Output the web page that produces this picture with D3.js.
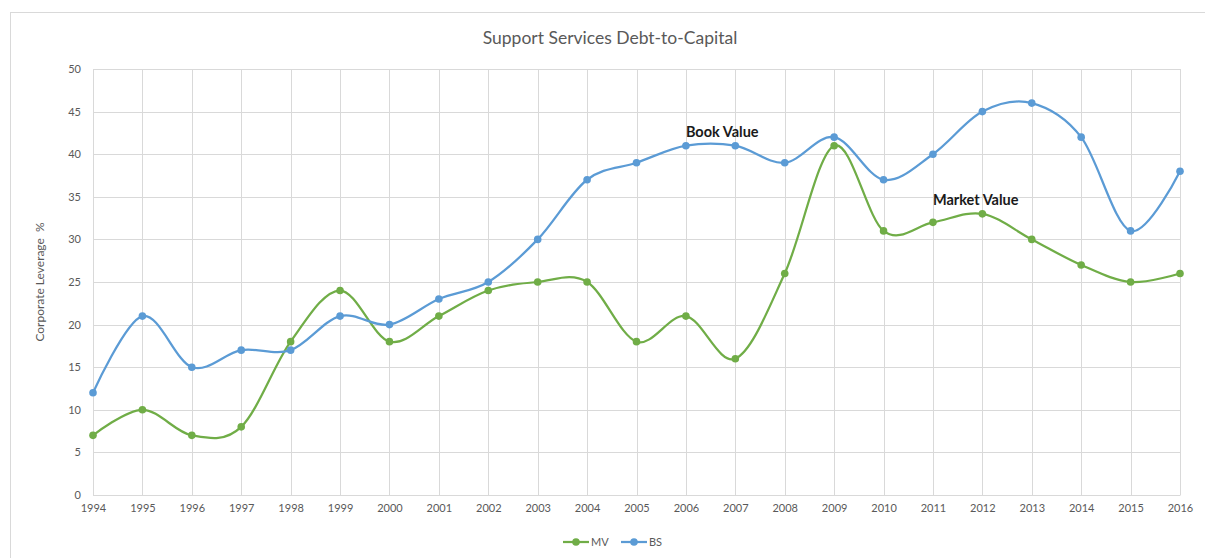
<!DOCTYPE html>
<html>
<head>
<meta charset="utf-8">
<script src="https://cdn.jsdelivr.net/npm/d3@7"></script>
<style>
  body { margin: 0; background: #fff; }
  #chart { width: 1205px; height: 558px; }
  text { font-family: Lato, "Open Sans", sans-serif; }
</style>
</head>
<body>
<div id="chart"></div>
<script>
const years = [1994, 1995, 1996, 1997, 1998, 1999, 2000, 2001, 2002, 2003, 2004, 2005,
  2006, 2007, 2008, 2009, 2010, 2011, 2012, 2013, 2014, 2015, 2016];
const mv = [7, 10, 7, 8, 18, 24, 18, 21, 24, 25, 25, 18, 21, 16, 26, 41, 31, 32, 33, 30, 27, 25, 26];
const bs = [12, 21, 15, 17, 17, 21, 20, 23, 25, 30, 37, 39, 41, 41, 39, 42, 37, 40, 45, 46, 42, 31, 38];
const yTicks = [0, 5, 10, 15, 20, 25, 30, 35, 40, 45, 50];

function drawChart() {
  const container = d3.select("#chart");
  container.selectAll("*").remove();

  const width = 1205;
  const height = 558;
  const margin = { top: 69, right: 25, bottom: 63, left: 93 };

  const svg = container.append("svg")
    .attr("width", width)
    .attr("height", height);

  // outer chart frame
  svg.append("rect")
    .attr("x", 10.5).attr("y", 12.5)
    .attr("width", 1220).attr("height", 600)
    .attr("fill", "none")
    .attr("stroke", "#d9d9d9");

  const x = d3.scaleLinear()
    .domain(d3.extent(years))
    .range([margin.left, width - margin.right]);

  const y = d3.scaleLinear()
    .domain([0, 50])
    .range([height - margin.bottom, margin.top]);

  // grid
  svg.append("g")
    .selectAll("line")
    .data(yTicks)
    .join("line")
    .attr("x1", margin.left).attr("x2", width - margin.right)
    .attr("y1", d => Math.round(y(d)) + 0.5).attr("y2", d => Math.round(y(d)) + 0.5)
    .attr("stroke", "#d9d9d9");

  svg.append("g")
    .selectAll("line")
    .data(years)
    .join("line")
    .attr("x1", d => Math.round(x(d)) + 0.5).attr("x2", d => Math.round(x(d)) + 0.5)
    .attr("y1", y(0)).attr("y2", y(50))
    .attr("stroke", "#d9d9d9");

  // axes
  const xAxis = svg.append("g")
    .attr("transform", `translate(0,${y(0)})`)
    .call(d3.axisBottom(x).tickValues(years).tickFormat(d3.format("d")).tickSize(0).tickPadding(9));
  const yAxis = svg.append("g")
    .attr("transform", `translate(${margin.left},0)`)
    .call(d3.axisLeft(y).tickValues(yTicks).tickSize(0).tickPadding(12));

  [xAxis, yAxis].forEach(g => {
    g.select(".domain").attr("stroke", "#d9d9d9");
    g.selectAll("text")
      .attr("fill", "#595959")
      .style("font-size", "11px")
      .style("font-family", "Lato, 'Open Sans', sans-serif");
  });

  svg.append("text")
    .attr("x", 610).attr("y", 44)
    .attr("text-anchor", "middle")
    .attr("fill", "#595959")
    .style("font-size", "17.5px")
    .text("Support Services Debt-to-Capital");

  svg.append("text")
    .attr("transform", `translate(44,${(y(0) + y(50)) / 2}) rotate(-90)`)
    .attr("text-anchor", "middle")
    .attr("fill", "#595959")
    .style("font-size", "12px")
    .style("white-space", "pre")
    .text("Corporate Leverage  %");

  const line = d3.line()
    .x(d => x(d[0]))
    .y(d => y(d[1]))
    .curve(d3.curveCardinal.tension(0));

  const series = [
    { name: "MV", values: mv, color: "#70ad47" },
    { name: "BS", values: bs, color: "#5b9bd5" }
  ];

  series.forEach(s => {
    const pts = years.map((yr, i) => [yr, s.values[i]]);
    svg.append("path")
      .datum(pts)
      .attr("fill", "none")
      .attr("stroke", s.color)
      .attr("stroke-width", 2.25)
      .attr("d", line);
    svg.append("g")
      .selectAll("circle")
      .data(pts)
      .join("circle")
      .attr("cx", d => x(d[0]))
      .attr("cy", d => y(d[1]))
      .attr("r", 3.8)
      .attr("fill", s.color);
  });

  // annotations
  svg.append("text")
    .attr("x", x(2006)).attr("y", y(41) - 9)
    .attr("fill", "#1a1a1a")
    .style("font-size", "14.5px")
    .style("font-weight", "bold")
    .text("Book Value");
  svg.append("text")
    .attr("x", x(2011)).attr("y", y(33) - 9)
    .attr("fill", "#1a1a1a")
    .style("font-size", "14.5px")
    .style("font-weight", "bold")
    .text("Market Value");

  // legend
  const legend = svg.append("g").attr("transform", `translate(563,542)`);
  series.forEach((s, i) => {
    const g = legend.append("g").attr("transform", `translate(${i * 58},0)`);
    g.append("line").attr("x1", 0).attr("x2", 26).attr("y1", 0).attr("y2", 0)
      .attr("stroke", s.color).attr("stroke-width", 2.25);
    g.append("circle").attr("cx", 13).attr("cy", 0).attr("r", 3.8).attr("fill", s.color);
    g.append("text").attr("x", 28).attr("y", 4)
      .attr("fill", "#595959").style("font-size", "11px").text(s.name);
  });
}

drawChart();
</script>
</body>
</html>
